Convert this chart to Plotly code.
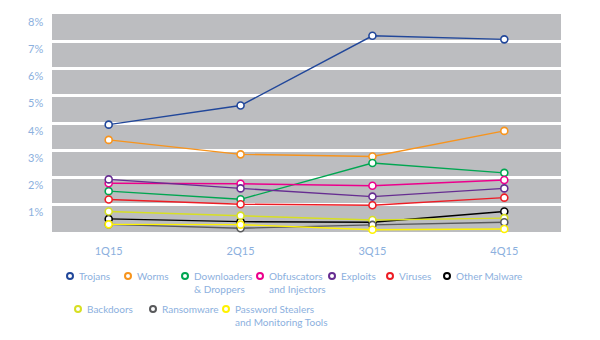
import plotly.graph_objects as go

quarters = ["1Q15", "2Q15", "3Q15", "4Q15"]
series_names = ["Trojans", "Worms", "Downloaders<br>& Droppers", "Obfuscators<br>and Injectors",
                "Exploits", "Viruses", "Other Malware", "Backdoors", "Ransomware",
                "Password Stealers<br>and Monitoring Tools"]
trojans = [3.94, 4.64, 7.20, 7.07]
worms = [3.38, 2.85, 2.77, 3.71]
downloaders = [1.50, 1.20, 2.53, 2.17]
obfuscators = [1.79, 1.77, 1.70, 1.91]
exploits = [1.93, 1.60, 1.30, 1.60]
viruses = [1.19, 1.02, 0.98, 1.26]
other_malware = [0.48, 0.38, 0.36, 0.75]
backdoors = [0.75, 0.60, 0.44, 0.51]
ransomware = [0.28, 0.14, 0.26, 0.36]
password_stealers = [0.28, 0.27, 0.08, 0.11]
y_ticks = [1, 2, 3, 4, 5, 6, 7, 8]
y_tick_labels = ["1%", "2%", "3%", "4%", "5%", "6%", "7%", "8%"]

all_values = [trojans, worms, downloaders, obfuscators, exploits, viruses,
              other_malware, backdoors, ransomware, password_stealers]
colors = ["#21479a", "#f7941d", "#00a651", "#ec008c", "#662d91", "#ed1c24",
          "#000000", "#d7df23", "#58595b", "#fff200"]

# legend layout (pixel positions)
legend_marker_px = [(70, 276), (128, 276), (185, 276), (260, 276), (332, 276), (390, 276),
                    (447, 276), (78, 309), (153, 309), (226, 309)]

L, R, T, B = 52, 561, 14, 232
W, H = R - L, B - T
def px2x(p): return (p - L) / W
def py2y(p): return (B - p) / H

text_color = "#8cb0de"
fam = "Lato"
fig = go.Figure()
for name, vals, c in zip(series_names, all_values, colors):
    fig.add_trace(go.Scatter(
        x=quarters, y=vals, mode="lines+markers", name=name.replace("<br>", " "),
        line=dict(color=c, width=1.4),
        marker=dict(symbol="circle", size=7, color="white", line=dict(color=c, width=1.6)),
        showlegend=False, cliponaxis=False))

shapes = []
annotations = []
for name, c, (mx, my) in zip(series_names, colors, legend_marker_px):
    shapes.append(dict(type="circle", xref="paper", yref="paper", xsizemode="pixel", ysizemode="pixel",
                       xanchor=px2x(mx), yanchor=py2y(my), x0=-3, x1=3, y0=-3, y1=3,
                       line=dict(color=c, width=2), fillcolor="white", layer="above"))
    annotations.append(dict(text=name, xref="paper", yref="paper", x=px2x(mx + 8), y=py2y(my - 7),
                            xanchor="left", yanchor="top", showarrow=False, align="left",
                            font=dict(size=10, color=text_color, family=fam),
                            borderpad=0))

# y-axis labels, placed just below each gridline
for v, t in zip(y_ticks, y_tick_labels):
    annotations.append(dict(text=t, xref="paper", yref="y", x=px2x(44), y=v, yshift=-7,
                            xanchor="right", yanchor="middle", showarrow=False,
                            font=dict(size=11, color=text_color, family=fam), borderpad=0))

fig.update_layout(
    width=600, height=340,
    margin=dict(l=L, r=600 - R, t=T, b=340 - B),
    paper_bgcolor="white", plot_bgcolor="#bcbdc0",
    font=dict(family=fam, color=text_color, size=11),
    shapes=shapes, annotations=annotations,
    xaxis=dict(type="category", range=[-0.43, 3.43], showgrid=False, zeroline=False,
               showline=False, ticks="", tickfont=dict(size=11, color=text_color, family=fam),
               ticklabelstandoff=11),
    yaxis=dict(range=[0, 8], tickvals=y_ticks, showgrid=True, showticklabels=False,
               gridcolor="white", gridwidth=2.6, zeroline=False, showline=False, ticks=""),
)
fig.write_html("out.html")
